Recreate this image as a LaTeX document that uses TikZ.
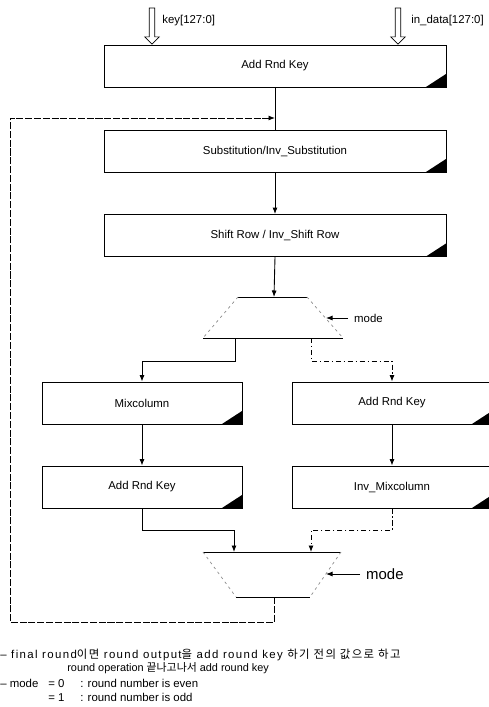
\documentclass[tikz,border=0pt]{standalone}
\usepackage{fontspec}
\setmainfont{Liberation Sans}
\newfontfamily\krfont{Noto Sans CJK KR}
\newfontfamily\widefont[LetterSpace=12]{Liberation Sans}
\newfontfamily\krwide[LetterSpace=12]{Noto Sans CJK KR}
\usetikzlibrary{shapes.arrows,arrows.meta,positioning,calc}
\newcommand{\boxfont}{\fontsize{6.5}{8}\selectfont}
\newcommand{\modefont}{\fontsize{8.5}{10}\selectfont}

\begin{document}
\begin{tikzpicture}[x=0.02cm, y=-0.02cm,
    stage/.style={rectangle, draw, line width=0.5pt, minimum width=6.84cm, minimum height=0.84cm,
               font=\boxfont, inner sep=0pt,
               path picture={\fill ([xshift=-0.4cm]path picture bounding box.south east)
                  -- (path picture bounding box.south east)
                  -- ([yshift=0.26cm]path picture bounding box.south east) -- cycle;}},
    half/.style={stage, minimum width=4cm},
    hollow/.style={single arrow, draw, line width=0.4pt, rotate=-90, minimum height=0.72cm,
               minimum width=0.24cm, inner sep=1.4pt, single arrow head extend=2.5pt},
    arr/.style={-{Latex[length=1.3mm,width=1mm]}, line width=0.5pt},
    inv/.style={dash pattern=on 3pt off 1.5pt on 0.8pt off 1.5pt},
    loop/.style={dash pattern=on 4pt off 1pt},
    edge/.style={line width=0.5pt},
    side/.style={draw=black!45, line width=0.4pt, dash pattern=on 1.5pt off 2pt},
    lbl/.style={font=\boxfont, anchor=west}
]
    \useasboundingbox (0,0) rectangle (489,707);

    % round pipeline
    \node[stage] (ark1) at (275,66)    {Add Rnd Key};
    \node[stage] (sub)  at (275,151)   {Substitution/Inv\_Substitution};
    \node[stage] (shf)  at (275,235.5) {Shift Row / Inv\_Shift Row};
    \node[half]  (mix)  at (142,403)   {Mixcolumn};
    \node[half]  (ark2) at (392,403)   {Add Rnd Key};
    \node[half]  (ark3) at (142,487)   {Add Rnd Key};
    \node[half]  (imix) at (392,487)   {Inv\_Mixcolumn};

    % inputs
    \node[hollow, anchor=tip] (keyin)  at ([xshift=-2.46cm]ark1.north) {};
    \node[hollow, anchor=tip] (datain) at ([xshift=2.46cm]ark1.north) {};
    \node[lbl, inner sep=0pt] (keyl)  at (162,21) {key[127:0]};
    \node[lbl, inner sep=0pt] (datal) at (411,21) {in\_data[127:0]};

    % demux
    \coordinate (dnw) at (238,297); \coordinate (dne) at (307,297);
    \coordinate (dsw) at (203,338); \coordinate (dse) at (343,338);
    \draw[edge] (dnw) -- (dne) (dsw) -- (dse);
    \draw[side] (dnw) -- (dsw) (dne) -- (dse);
    \coordinate (dmxin) at (274,297);
    \coordinate (dmxl) at (235,338);
    \coordinate (dmxr) at (311,338);
    \coordinate (dmode) at (326,318);
    \node[lbl] (dmodel) at (348,318) {mode};

    % mux
    \coordinate (mnw) at (203,552); \coordinate (mne) at (341,552);
    \coordinate (msw) at (236,597); \coordinate (mse) at (310,597);
    \draw[edge] (mnw) -- (mne) (msw) -- (mse);
    \draw[side] (mnw) -- (msw) (mne) -- (mse);
    \coordinate (mxinl) at (234,552);
    \coordinate (mxinr) at (311,552);
    \coordinate (mxout) at (274,597);
    \coordinate (mmode) at (326,574);
    \node[lbl, font=\modefont] (mmodel) at (360,574) {mode};

    \coordinate (fbk) at (ark1.south |- 0,118);
    \coordinate (lpb) at (10,622);

    \draw[edge] (ark1) -- (sub);
    \draw[arr] (sub) -- (shf);
    \draw[arr] (shf.south) -- (dmxin);
    \draw[arr] (dmxl) -- ++(0,23) -| (mix.north);
    \draw[arr, inv] (dmxr) -- ++(0,23) -| (ark2.north);
    \draw[arr] (mix) -- (ark3);
    \draw[arr] (ark2) -- (imix);
    \draw[arr] (ark3.south) -- ++(0,22) -| (mxinl);
    \draw[arr, inv] (imix.south) -- ++(0,22) -| (mxinr);
    \draw[arr] (dmodel) -- (dmode);
    \draw[arr] (mmodel) -- (mmode);
    \draw[arr, loop] (mxout) |- (lpb) |- (fbk);

    % notes
    \node[lbl, inner sep=0pt, font=\widefont\boxfont] (note1) at (0,655)
        {– final round{\krwide 이면} round output{\krwide 을} add round key {\krwide 하기 전의 값으로 하고}};
    \node[lbl, inner sep=0pt, font=\fontsize{6.2}{8}\selectfont] (note2) at (67,668)
        {round operation {\krfont 끝나고나서} add round key};
    \node[lbl, inner sep=0pt, align=left] (note3) at (0,690)
        {\makebox[0.96cm][l]{-- mode}\makebox[0.64cm][l]{= 0}: round number is even\\
         \hspace*{0.96cm}\makebox[0.64cm][l]{= 1}: round number is odd};
\end{tikzpicture}
\end{document}
